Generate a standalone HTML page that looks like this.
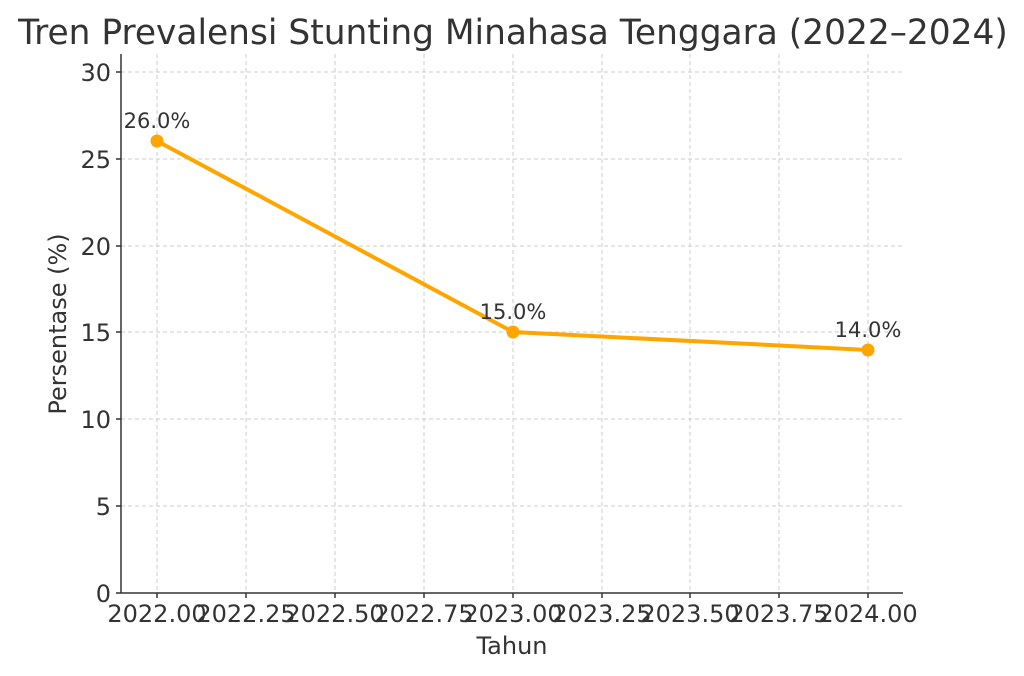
<!DOCTYPE html>
<html><head><meta charset="utf-8"><style>
html,body{margin:0;padding:0;background:#fff;}
svg{display:block;font-family:"DejaVu Sans","Liberation Sans",sans-serif;}
</style></head><body>
<svg width="1024" height="676" viewBox="0 0 1024 676">
<text x="513" y="44" text-anchor="middle" font-size="34.4" fill="#333">Tren Prevalensi Stunting Minahasa Tenggara (2022–2024)</text>
<g stroke="#ccc" stroke-width="1" stroke-dasharray="4,3">
<line x1="157" y1="54" x2="157" y2="593"/><line x1="246" y1="54" x2="246" y2="593"/>
<line x1="335" y1="54" x2="335" y2="593"/><line x1="424" y1="54" x2="424" y2="593"/>
<line x1="513" y1="54" x2="513" y2="593"/><line x1="602" y1="54" x2="602" y2="593"/>
<line x1="690" y1="54" x2="690" y2="593"/><line x1="779" y1="54" x2="779" y2="593"/>
<line x1="868" y1="54" x2="868" y2="593"/>
<line x1="121" y1="72" x2="903" y2="72"/><line x1="121" y1="159" x2="903" y2="159"/>
<line x1="121" y1="246" x2="903" y2="246"/><line x1="121" y1="332" x2="903" y2="332"/>
<line x1="121" y1="419" x2="903" y2="419"/><line x1="121" y1="506" x2="903" y2="506"/>
</g>
<g stroke="#333" stroke-width="1.5">
<line x1="121" y1="54" x2="121" y2="593"/><line x1="121" y1="593" x2="903" y2="593"/>
<line x1="116" y1="72" x2="121" y2="72"/><line x1="116" y1="159" x2="121" y2="159"/>
<line x1="116" y1="246" x2="121" y2="246"/><line x1="116" y1="332" x2="121" y2="332"/>
<line x1="116" y1="419" x2="121" y2="419"/><line x1="116" y1="506" x2="121" y2="506"/>
<line x1="116" y1="593" x2="121" y2="593"/>
<line x1="157" y1="593" x2="157" y2="598"/><line x1="246" y1="593" x2="246" y2="598"/>
<line x1="335" y1="593" x2="335" y2="598"/><line x1="424" y1="593" x2="424" y2="598"/>
<line x1="513" y1="593" x2="513" y2="598"/><line x1="602" y1="593" x2="602" y2="598"/>
<line x1="690" y1="593" x2="690" y2="598"/><line x1="779" y1="593" x2="779" y2="598"/>
<line x1="868" y1="593" x2="868" y2="598"/>
</g>
<g font-size="24" fill="#333" text-anchor="end">
<text x="111" y="81">30</text><text x="111" y="168">25</text><text x="111" y="255">20</text>
<text x="111" y="341">15</text><text x="111" y="428">10</text><text x="111" y="515">5</text>
<text x="111" y="602">0</text>
</g>
<g font-size="24" fill="#333" text-anchor="middle">
<text x="157" y="622">2022.00</text><text x="246" y="622">2022.25</text><text x="335" y="622">2022.50</text>
<text x="424" y="622">2022.75</text><text x="513" y="622">2023.00</text><text x="602" y="622">2023.25</text>
<text x="690" y="622">2023.50</text><text x="779" y="622">2023.75</text><text x="868" y="622">2024.00</text>
<text x="512" y="654">Tahun</text>
<text transform="translate(66,324) rotate(-90)">Persentase (%)</text>
</g>
<polyline points="157,141 513,332 868,350" fill="none" stroke="#FFA500" stroke-width="4"/>
<g fill="#FFA500"><circle cx="157" cy="141" r="6.5"/><circle cx="513" cy="332" r="6.5"/><circle cx="868" cy="350" r="6.5"/></g>
<g font-size="21" fill="#333" text-anchor="middle">
<text x="157" y="128">26.0%</text><text x="513" y="319">15.0%</text><text x="868" y="337">14.0%</text>
</g>
</svg>
</body></html>
